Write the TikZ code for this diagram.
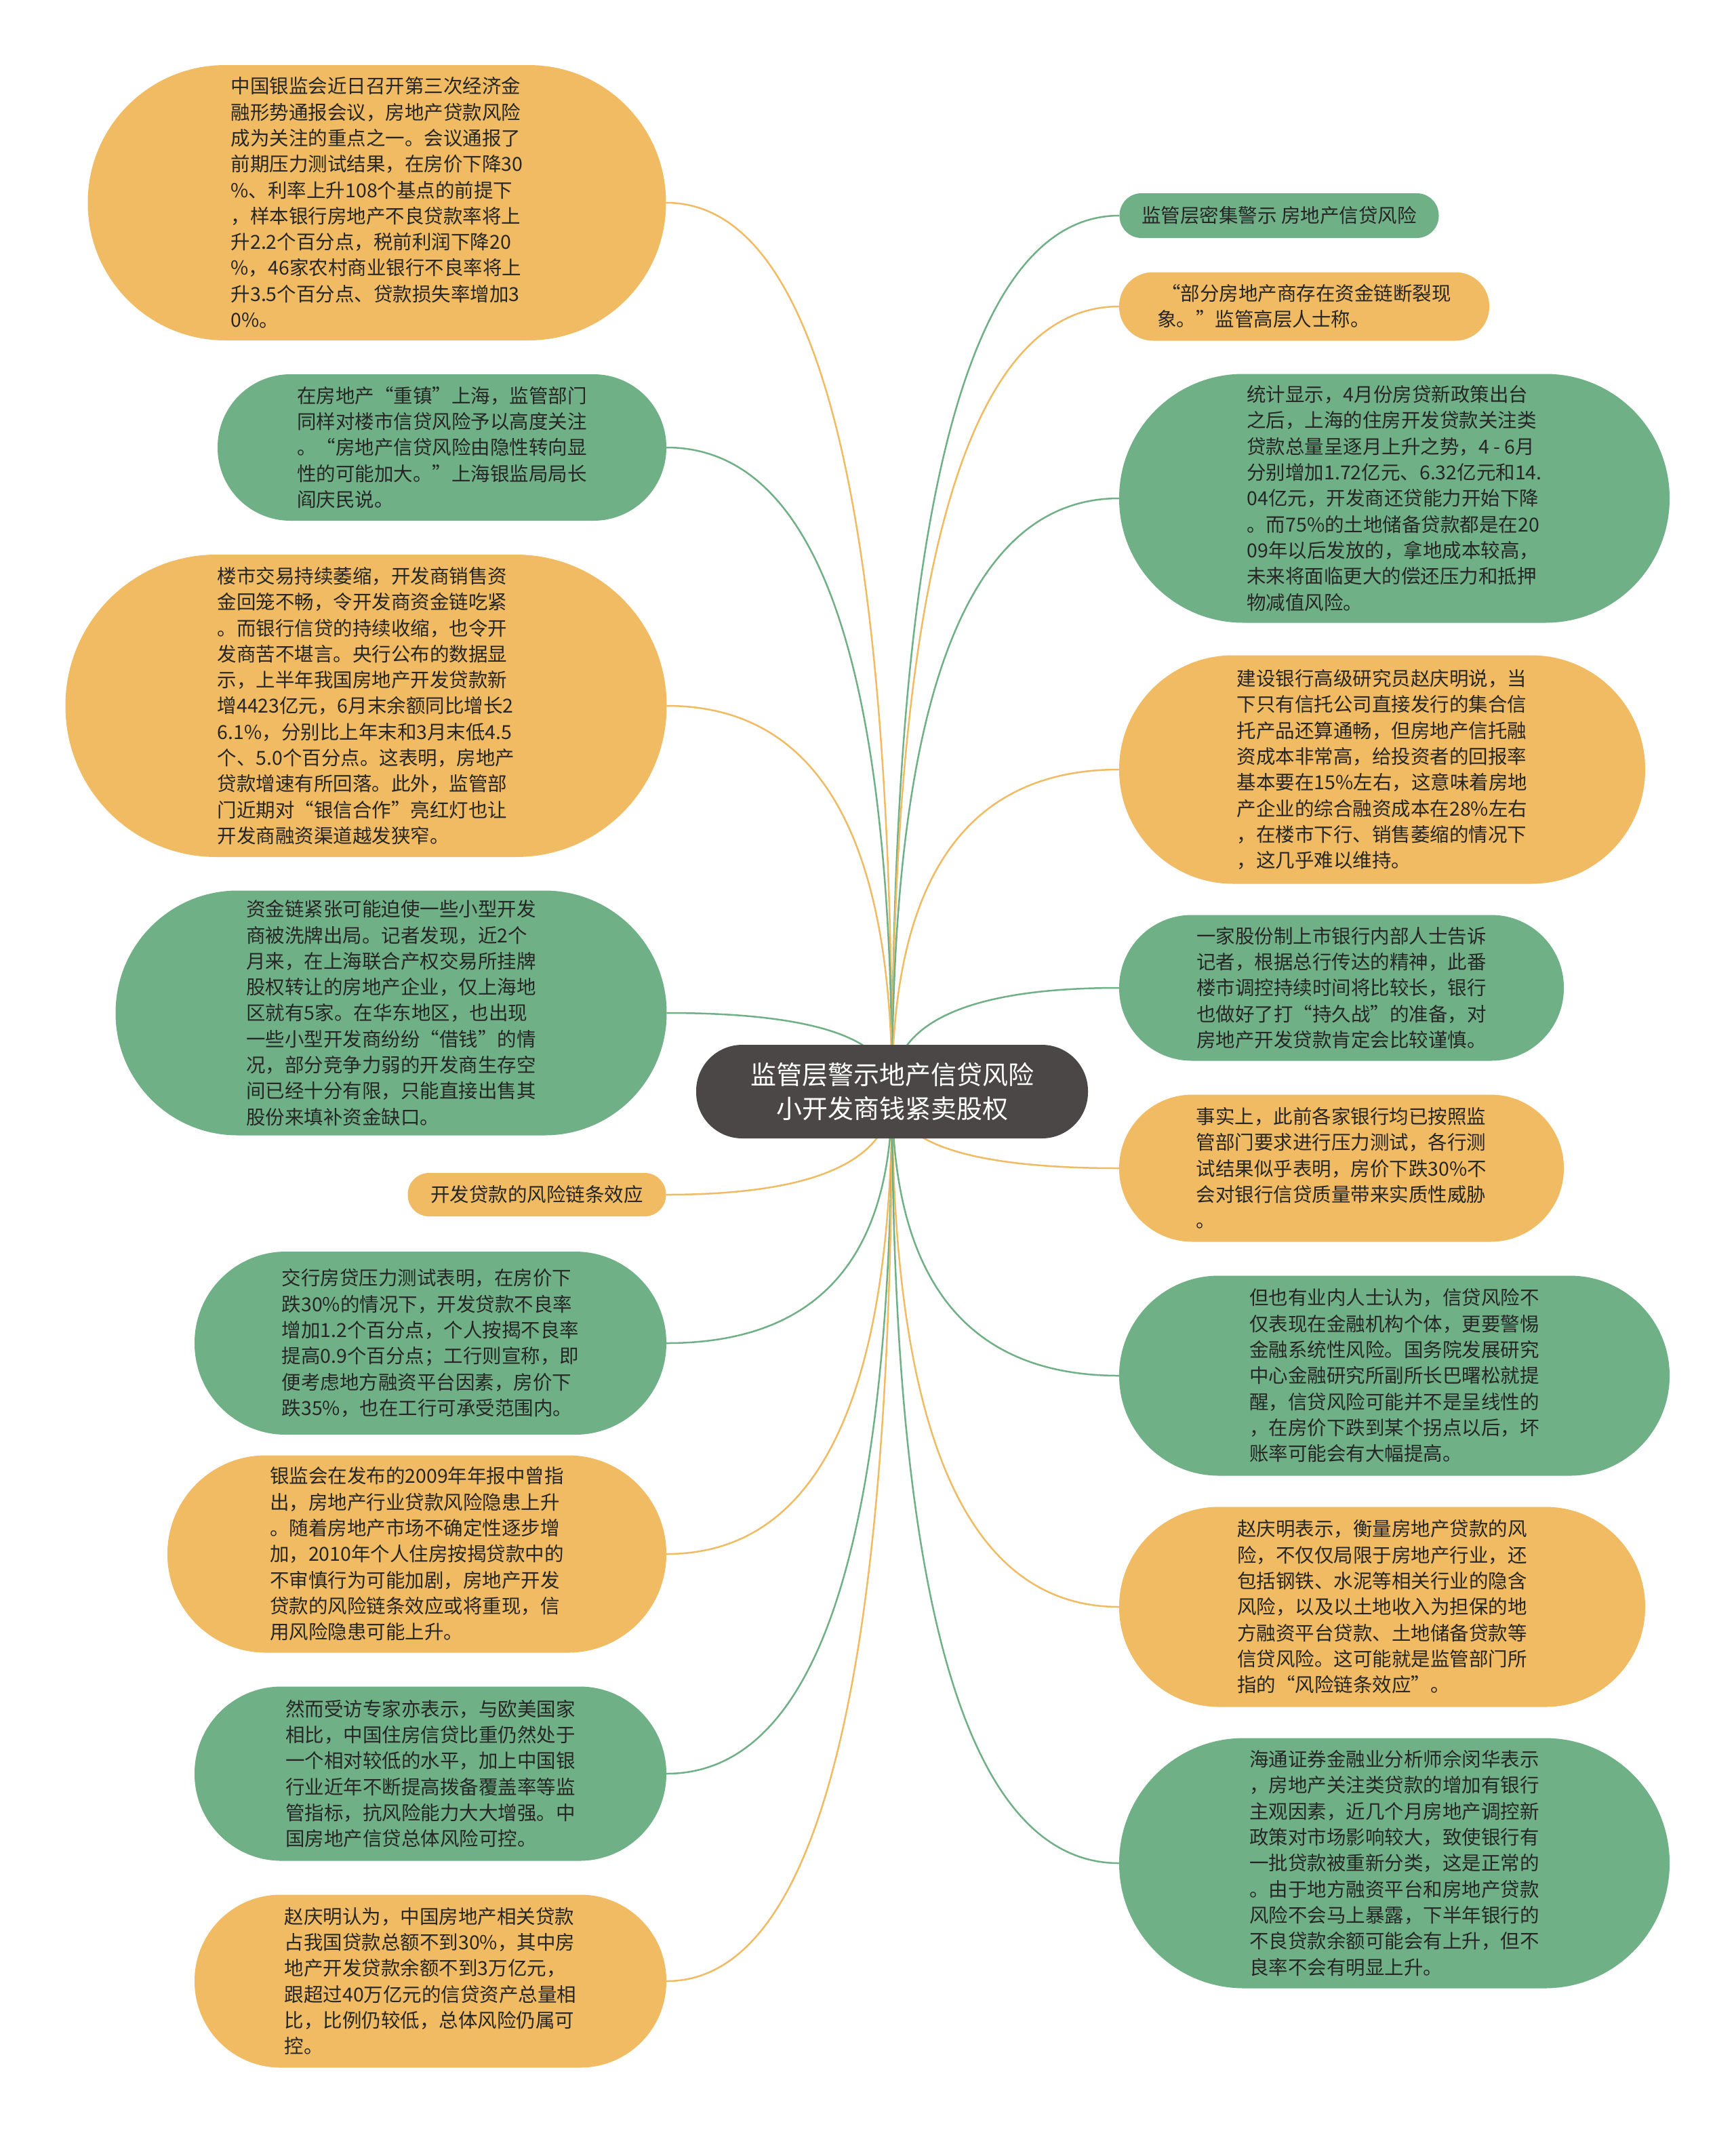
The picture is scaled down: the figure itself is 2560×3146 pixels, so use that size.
\documentclass[tikz,border=0pt]{standalone}
\usepackage{fontspec}
\newfontfamily\cjk{Noto Sans CJK SC}
\usetikzlibrary{calc,backgrounds}
\definecolor{gfill}{RGB}{112,176,134}
\definecolor{ofill}{RGB}{240,187,99}
\definecolor{rootc}{RGB}{75,71,70}
\definecolor{txt}{RGB}{38,38,38}
\newcommand\bodyfont{\cjk\fontsize{28.5}{38.3}\selectfont}
\newcommand\rootfont{\cjk\fontsize{38}{50}\selectfont}
\newcommand\conn[3]{\draw[#3, line width=2.5pt] (root.center) .. controls ($(root.center)!0.6667!(root.center |- #1.#2)$) and ($(#1.#2)!0.6667!(root.center |- #1.#2)$) .. (#1.#2);}
\tikzset{
  bub/.style 2 args={rectangle, draw=none, minimum width=#1pt, minimum height=#2pt,
    rounded corners=#2pt/2-0.5pt, inner sep=0pt, align=left, text=txt, font=\bodyfont},
  gbub/.style 2 args={bub={#1}{#2}, fill=gfill},
  obub/.style 2 args={bub={#1}{#2}, fill=ofill},
}
\begin{document}
\begin{tikzpicture}[x=1pt,y=-1pt]
\useasboundingbox (0,0) rectangle (2560,3146);

\node[fill=rootc, minimum width=578pt, minimum height=138pt, rounded corners=68pt,
  text=white, font=\rootfont, align=center, inner sep=0pt] (root) at (1316,1610)
  {监管层警示地产信贷风险\\小开发商钱紧卖股权};

% left column
\node[obub={853}{406}] (L1) at (556,299) {中国银监会近日召开第三次经济金\\融形势通报会议，房地产贷款风险\\成为关注的重点之一。会议通报了\\前期压力测试结果，在房价下降30\\\%、利率上升108个基点的前提下\\，样本银行房地产不良贷款率将上\\升2.2个百分点，税前利润下降20\\\%，46家农村商业银行不良率将上\\升3.5个百分点、贷款损失率增加3\\0\%。};
\node[gbub={662}{216}] (L2) at (652,660) {在房地产“重镇”上海，监管部门\\同样对楼市信贷风险予以高度关注\\。“房地产信贷风险由隐性转向显\\性的可能加大。”上海银监局局长\\阎庆民说。};
\node[obub={887}{446}] (L3) at (540,1041) {楼市交易持续萎缩，开发商销售资\\金回笼不畅，令开发商资金链吃紧\\。而银行信贷的持续收缩，也令开\\发商苦不堪言。央行公布的数据显\\示，上半年我国房地产开发贷款新\\增4423亿元，6月末余额同比增长2\\6.1\%，分别比上年末和3月末低4.5\\个、5.0个百分点。这表明，房地产\\贷款增速有所回落。此外，监管部\\门近期对“银信合作”亮红灯也让\\开发商融资渠道越发狭窄。};
\node[gbub={813}{361}] (L4) at (577,1494) {资金链紧张可能迫使一些小型开发\\商被洗牌出局。记者发现，近2个\\月来，在上海联合产权交易所挂牌\\股权转让的房地产企业，仅上海地\\区就有5家。在华东地区，也出现\\一些小型开发商纷纷“借钱”的情\\况，部分竞争力弱的开发商生存空\\间已经十分有限，只能直接出售其\\股份来填补资金缺口。};
\node[obub={381}{64}] (L5) at (792,1762) {开发贷款的风险链条效应};
\node[gbub={696}{270}] (L6) at (635,1981) {交行房贷压力测试表明，在房价下\\跌30\%的情况下，开发贷款不良率\\增加1.2个百分点，个人按揭不良率\\提高0.9个百分点；工行则宣称，即\\便考虑地方融资平台因素，房价下\\跌35\%，也在工行可承受范围内。};
\node[obub={736}{291}] (L7) at (615,2292) {银监会在发布的2009年年报中曾指\\出，房地产行业贷款风险隐患上升\\。随着房地产市场不确定性逐步增\\加，2010年个人住房按揭贷款中的\\不审慎行为可能加剧，房地产开发\\贷款的风险链条效应或将重现，信\\用风险隐患可能上升。};
\node[gbub={696}{257}] (L8) at (635,2616) {然而受访专家亦表示，与欧美国家\\相比，中国住房信贷比重仍然处于\\一个相对较低的水平，加上中国银\\行业近年不断提高拨备覆盖率等监\\管指标，抗风险能力大大增强。中\\国房地产信贷总体风险可控。};
\node[obub={696}{255}] (L9) at (635,2922) {赵庆明认为，中国房地产相关贷款\\占我国贷款总额不到30\%，其中房\\地产开发贷款余额不到3万亿元，\\跟超过40万亿元的信贷资产总量相\\比，比例仍较低，总体风险仍属可\\控。};

% right column
\node[gbub={471}{66}] (R1) at (1887,318) {监管层密集警示 房地产信贷风险};
\node[obub={546}{101}] (R2) at (1924,452) {\ “部分房地产商存在资金链断裂现\\象。”监管高层人士称。};
\node[gbub={812}{367}] (R3) at (2057,735) {统计显示，4月份房贷新政策出台\\之后，上海的住房开发贷款关注类\\贷款总量呈逐月上升之势，4 - 6月\\分别增加1.72亿元、6.32亿元和14.\\04亿元，开发商还贷能力开始下降\\。而75\%的土地储备贷款都是在20\\09年以后发放的，拿地成本较高，\\未来将面临更大的偿还压力和抵押\\物减值风险。};
\node[obub={776}{337}] (R4) at (2039,1135) {建设银行高级研究员赵庆明说，当\\下只有信托公司直接发行的集合信\\托产品还算通畅，但房地产信托融\\资成本非常高，给投资者的回报率\\基本要在15\%左右，这意味着房地\\产企业的综合融资成本在28\%左右\\，在楼市下行、销售萎缩的情况下\\，这几乎难以维持。};
\node[gbub={656}{215}] (R5) at (1979,1457) {一家股份制上市银行内部人士告诉\\记者，根据总行传达的精神，此番\\楼市调控持续时间将比较长，银行\\也做好了打“持久战”的准备，对\\房地产开发贷款肯定会比较谨慎。};
\node[obub={656}{217}] (R6) at (1979,1723) {事实上，此前各家银行均已按照监\\管部门要求进行压力测试，各行测\\试结果似乎表明，房价下跌30\%不\\会对银行信贷质量带来实质性威胁\\。};
\node[gbub={812}{295}] (R7) at (2057,2029) {但也有业内人士认为，信贷风险不\\仅表现在金融机构个体，更要警惕\\金融系统性风险。国务院发展研究\\中心金融研究所副所长巴曙松就提\\醒，信贷风险可能并不是呈线性的\\，在房价下跌到某个拐点以后，坏\\账率可能会有大幅提高。};
\node[obub={776}{295}] (R8) at (2039,2370) {赵庆明表示，衡量房地产贷款的风\\险，不仅仅局限于房地产行业，还\\包括钢铁、水泥等相关行业的隐含\\风险，以及以土地收入为担保的地\\方融资平台贷款、土地储备贷款等\\信贷风险。这可能就是监管部门所\\指的“风险链条效应”。};
\node[gbub={812}{369}] (R9) at (2057,2748) {海通证券金融业分析师佘闵华表示\\，房地产关注类贷款的增加有银行\\主观因素，近几个月房地产调控新\\政策对市场影响较大，致使银行有\\一批贷款被重新分类，这是正常的\\。由于地方融资平台和房地产贷款\\风险不会马上暴露，下半年银行的\\不良贷款余额可能会有上升，但不\\良率不会有明显上升。};

\begin{scope}[on background layer]
  \fill[white] (0,0) rectangle (2560,3146);
  \conn{L1}{east}{ofill}
  \conn{L2}{east}{gfill}
  \conn{L3}{east}{ofill}
  \conn{L4}{east}{gfill}
  \conn{L5}{east}{ofill}
  \conn{L6}{east}{gfill}
  \conn{L7}{east}{ofill}
  \conn{L8}{east}{gfill}
  \conn{L9}{east}{ofill}
  \conn{R1}{west}{gfill}
  \conn{R2}{west}{ofill}
  \conn{R3}{west}{gfill}
  \conn{R4}{west}{ofill}
  \conn{R5}{west}{gfill}
  \conn{R6}{west}{ofill}
  \conn{R7}{west}{gfill}
  \conn{R8}{west}{ofill}
  \conn{R9}{west}{gfill}
\end{scope}
\end{tikzpicture}
\end{document}
